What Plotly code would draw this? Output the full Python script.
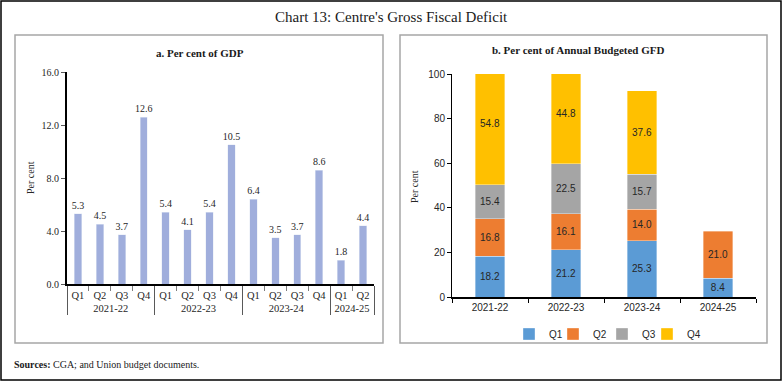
import plotly.graph_objects as go

# ---- Data ----
years_a = ["2021-22"] * 4 + ["2022-23"] * 4 + ["2023-24"] * 4 + ["2024-25"] * 2
quarters_a = ["Q1", "Q2", "Q3", "Q4"] * 3 + ["Q1", "Q2"]
gdp_pct = [5.3, 4.5, 3.7, 12.6, 5.4, 4.1, 5.4, 10.5, 6.4, 3.5, 3.7, 8.6, 1.8, 4.4]

years_b = ["2021-22", "2022-23", "2023-24", "2024-25"]
q1 = [18.2, 21.2, 25.3, 8.4]
q2 = [16.8, 16.1, 14.0, 21.0]
q3 = [15.4, 22.5, 15.7, None]
q4 = [54.8, 44.8, 37.6, None]
series_names = ["Q1", "Q2", "Q3", "Q4"]
series_colors = ["#5B9BD5", "#ED7D31", "#A5A5A5", "#FFC000"]

W, H = 782, 381
def px(x):
    return x / W
def py(y):
    return 1 - y / H

SERIF = "Liberation Serif"
SANS = "Liberation Sans"

fig = go.Figure()

# Panel a
fig.add_trace(go.Bar(
    x=[years_a, quarters_a], y=gdp_pct,
    marker=dict(color="#A0AEDC"),
    width=0.34,
    text=[f"{v:.1f}" for v in gdp_pct], textposition="outside",
    constraintext="none",
    textfont=dict(family=SERIF, size=10, color="#262626"),
    cliponaxis=False, showlegend=False,
    xaxis="x", yaxis="y",
))

# Panel b — one small legend per series so items sit close together
legend_ids = ["legend", "legend2", "legend3", "legend4"]
legend_x = [509, 553, 602, 647]
for name, vals, col, lid in zip(series_names, [q1, q2, q3, q4], series_colors, legend_ids):
    fig.add_trace(go.Bar(
        x=years_b, y=vals, name=name,
        width=0.39,
        marker=dict(color=col, line=dict(color="rgba(255,255,255,0.6)", width=0.6)),
        text=[("" if v is None else f"{v:.1f}") for v in vals],
        textposition="inside", insidetextanchor="middle", constraintext="none",
        textfont=dict(family=SANS, size=10, color="#262626"),
        xaxis="x2", yaxis="y2", legend=lid,
    ))

legend_layouts = {}
for lid, lx in zip(legend_ids, legend_x):
    legend_layouts[lid] = dict(orientation="h", x=px(lx), xanchor="left", y=py(334), yanchor="middle",
                               font=dict(family=SANS, size=10, color="#262626"),
                               bgcolor="rgba(0,0,0,0)", itemwidth=30)

fig.update_layout(
    width=W, height=H,
    margin=dict(l=0, r=0, t=0, b=0, autoexpand=False),
    paper_bgcolor="white", plot_bgcolor="white",
    barmode="stack",
    showlegend=True,
    **legend_layouts,
    xaxis=dict(domain=[px(67), px(374)], type="multicategory",
               showline=True, linecolor="black", linewidth=2,
               ticks="outside", ticklen=5, tickcolor="#7f7f7f", tickson="boundaries",
               tickangle=0,
               showdividers=True, dividercolor="#595959", dividerwidth=1,
               tickfont=dict(family=SERIF, size=10.5, color="#262626"),
               showgrid=False, anchor="y"),
    yaxis=dict(domain=[py(284), py(72)], range=[0, 16], dtick=4, tickformat=".1f",
               showline=True, linecolor="black", linewidth=2,
               ticks="outside", ticklen=4, tickcolor="#595959",
               tickfont=dict(family=SERIF, size=10, color="#262626"),
               showgrid=False, zeroline=False, anchor="x"),
    xaxis2=dict(domain=[px(452), px(756)], type="category",
                showline=True, linecolor="black", linewidth=2,
                ticks="outside", ticklen=4, tickcolor="black", tickson="boundaries",
                tickfont=dict(family=SANS, size=10, color="#262626"),
                showgrid=False, anchor="y2"),
    yaxis2=dict(domain=[py(297), py(74)], range=[0, 100], dtick=20,
                showline=True, linecolor="black", linewidth=1,
                ticks="outside", ticklen=4, tickcolor="black",
                tickfont=dict(family=SANS, size=10, color="#262626"),
                showgrid=False, zeroline=False, anchor="x2"),
)

annotations = [
    dict(text="Chart 13: Centre's Gross Fiscal Deficit", x=px(391), y=py(17),
         font=dict(family=SERIF, size=15, color="#1a1a1a")),
    dict(text="<b>a. Per cent of GDP</b>", x=px(200), y=py(53),
         font=dict(family=SERIF, size=11, color="#1a1a1a")),
    dict(text="<b>b. Per cent of Annual Budgeted GFD</b>", x=px(578), y=py(50),
         font=dict(family=SERIF, size=11, color="#1a1a1a")),
    dict(text="Per cent", x=px(30), y=py(178), textangle=-90,
         font=dict(family=SERIF, size=10, color="#262626")),
    dict(text="Per cent", x=px(414), y=py(187), textangle=-90,
         font=dict(family=SERIF, size=10, color="#262626")),
    dict(text="<b>Sources:</b> CGA; and Union budget documents.", x=px(12), y=py(364),
         xanchor="left", font=dict(family=SERIF, size=10, color="#1a1a1a")),
]
for a in annotations:
    a.setdefault("xanchor", "center")
    a.update(xref="paper", yref="paper", yanchor="middle", showarrow=False)
fig.update_layout(annotations=annotations)

fig.update_layout(shapes=[
    dict(type="rect", xref="paper", yref="paper", x0=px(1), x1=px(781), y0=py(380), y1=py(1),
         line=dict(color="black", width=1.5)),
    dict(type="rect", xref="paper", yref="paper", x0=px(15), x1=px(383), y0=py(343), y1=py(35),
         line=dict(color="#A6A6A6", width=1.5)),
    dict(type="rect", xref="paper", yref="paper", x0=px(400), x1=px(767), y0=py(343), y1=py(35),
         line=dict(color="#A6A6A6", width=1.5)),
])

fig.write_html("out.html", config={"displayModeBar": False},
               post_script="document.body.style.margin='0';document.body.style.overflow='hidden';")
